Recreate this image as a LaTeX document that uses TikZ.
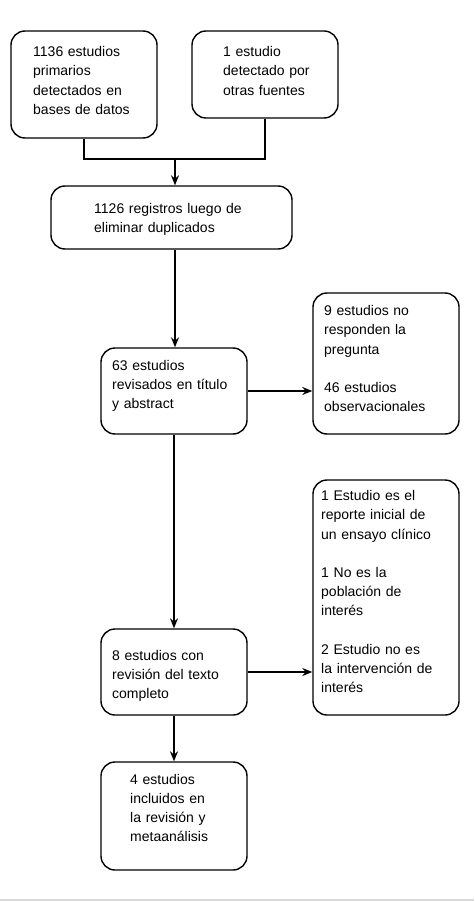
\documentclass[tikz,border=0pt]{standalone}
\usepackage{fontspec}
\setmainfont{Liberation Sans}
\usetikzlibrary{arrows.meta}
\tikzset{
  box/.style={draw=black, line width=1.4pt, rounded corners=14pt, inner sep=0pt, fill=white},
  txt/.style={anchor=base west, align=left, text width=200pt, inner sep=0pt,
              font=\fontsize{14}{19.2}\selectfont},
  arrow/.style={draw=black, line width=1.4pt, -{Stealth[length=10pt, width=8pt]}},
  merge/.style={draw=black, line width=2.6pt},
}
\begin{document}
\begin{tikzpicture}[x=1pt, y=-1pt]
\useasboundingbox[fill=white] (0,0) rectangle (474,901);
% boxes
\node[box, minimum width=146pt, minimum height=107pt] (a) at (84,84.5) {};
\node[box, minimum width=146pt, minimum height=87pt] (b) at (265,74.5) {};
\node[box, minimum width=241pt, minimum height=63pt] (c) at (171.5,217.5) {};
\node[box, minimum width=146pt, minimum height=86pt] (d) at (174,391) {};
\node[box, minimum width=146pt, minimum height=141pt] (e) at (386,363.5) {};
\node[box, minimum width=146pt, minimum height=86pt] (f) at (174,672) {};
\node[box, minimum width=146pt, minimum height=235pt] (g) at (386,597.5) {};
\node[box, minimum width=146pt, minimum height=108pt] (h) at (174,816) {};
% texts
\node[txt] (ta) at (33,56.7) {1136 estudios\\primarios\\detectados en\\bases de datos};
\node[txt] (tb) at (223,56.7) {1 estudio\\detectado por\\otras fuentes};
\node[txt] (tc) at (94,213.3) {1126 registros luego de\\eliminar duplicados};
\node[txt] (td) at (112,370) {63 estudios\\revisados en título\\y abstract};
\node[txt] (te) at (324,315.7) {9 estudios no\\responden la\\pregunta\\[19.2pt]46 estudios\\observacionales};
\node[txt] (tf) at (112,660) {8 estudios con\\revisión del texto\\completo};
\node[txt] (tg) at (321,500.7) {1 Estudio es el\\reporte inicial de\\un ensayo clínico\\[19.2pt]1 No es la\\población de\\interés\\[19.2pt]2 Estudio no es\\la intervención de\\interés};
\node[txt] (th) at (130,784.3) {4 estudios\\incluidos en\\la revisión y\\metaanálisis};
% connectors
\coordinate (m) at (175,159);
\draw[merge] (a.south) -- (a.south |- m) -- (b.south |- m) -- (b.south);
\draw[arrow] (m) -- (c.north -| m);
\draw[arrow] (c.south -| m) -- (d.north -| m);
\draw[arrow] (d.east) -- (d.east -| e.west);
\draw[arrow] (d.south) -- (f.north);
\draw[arrow] (f.east) -- (f.east -| g.west);
\draw[arrow] (f.south) -- (h.north);
% bottom rule
\coordinate (bl) at (0,899.5);
\coordinate (br) at (474,899.5);
\draw[gray!30, line width=2pt] (bl) -- (br);
\end{tikzpicture}
\end{document}
